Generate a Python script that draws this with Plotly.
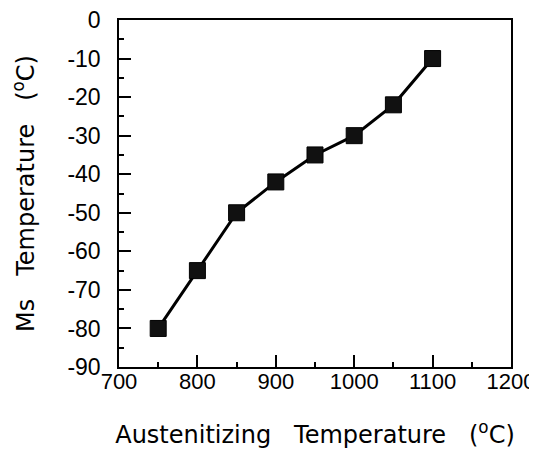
import plotly.graph_objects as go

# austenitizing temperature (C) vs Ms temperature (C)
aust_temp = [750, 800, 850, 900, 950, 1000, 1050, 1100]
ms_temp = [-80, -65, -50, -42, -35, -30, -22, -10]

x_ticks = [700, 800, 900, 1000, 1100, 1200]
y_ticks = [0, -10, -20, -30, -40, -50, -60, -70, -80, -90]

FONT = "Liberation Sans, Arial, sans-serif"
TITLE_FONT = "DejaVu Sans, sans-serif"

fig = go.Figure()
fig.add_trace(go.Scatter(
    x=aust_temp, y=ms_temp,
    mode="lines+markers",
    line=dict(color="black", width=3),
    marker=dict(symbol="square", size=16, color="#111111",
                line=dict(color="black", width=1)),
    showlegend=False,
))

axis_common = dict(
    showgrid=False, zeroline=False, automargin=False,
    showline=True, linecolor="black", linewidth=1.5, mirror=True,
    ticks="inside", ticklen=12, tickwidth=1.5, tickcolor="black",
    ticklabeloverflow="allow",
)

fig.update_xaxes(
    range=[700, 1200], tickvals=x_ticks,
    ticktext=[str(v) for v in x_ticks],
    tickfont=dict(family=FONT, size=22, color="black"),
    ticklabelstandoff=-6,
    minor=dict(dtick=50, ticks="inside", ticklen=5, tickcolor="black"),
    title=dict(text="Austenitizing   Temperature   (<sup>o</sup>C)",
               font=dict(family=TITLE_FONT, size=24, color="black"), standoff=33),
    **axis_common,
)
fig.update_yaxes(
    range=[-90, 0], tickvals=y_ticks,
    ticktext=[str(v) for v in y_ticks],  # plain hyphen minus like the original
    tickfont=dict(family=FONT, size=23, color="black"),
    ticklabelstandoff=12,
    minor=dict(dtick=5, ticks="inside", ticklen=5, tickcolor="black"),
    title=dict(text="Ms   Temperature   (<sup>o</sup>C)",
               font=dict(family=TITLE_FONT, size=24, color="black"), standoff=29),
    **axis_common,
)

# page body keeps its default 8px margin, so the figure is drawn 8px smaller
fig.update_layout(
    width=529, height=451,
    margin=dict(l=111, r=26, t=12, b=92),
    plot_bgcolor="white", paper_bgcolor="white",
)

fig.write_html("out.html")
